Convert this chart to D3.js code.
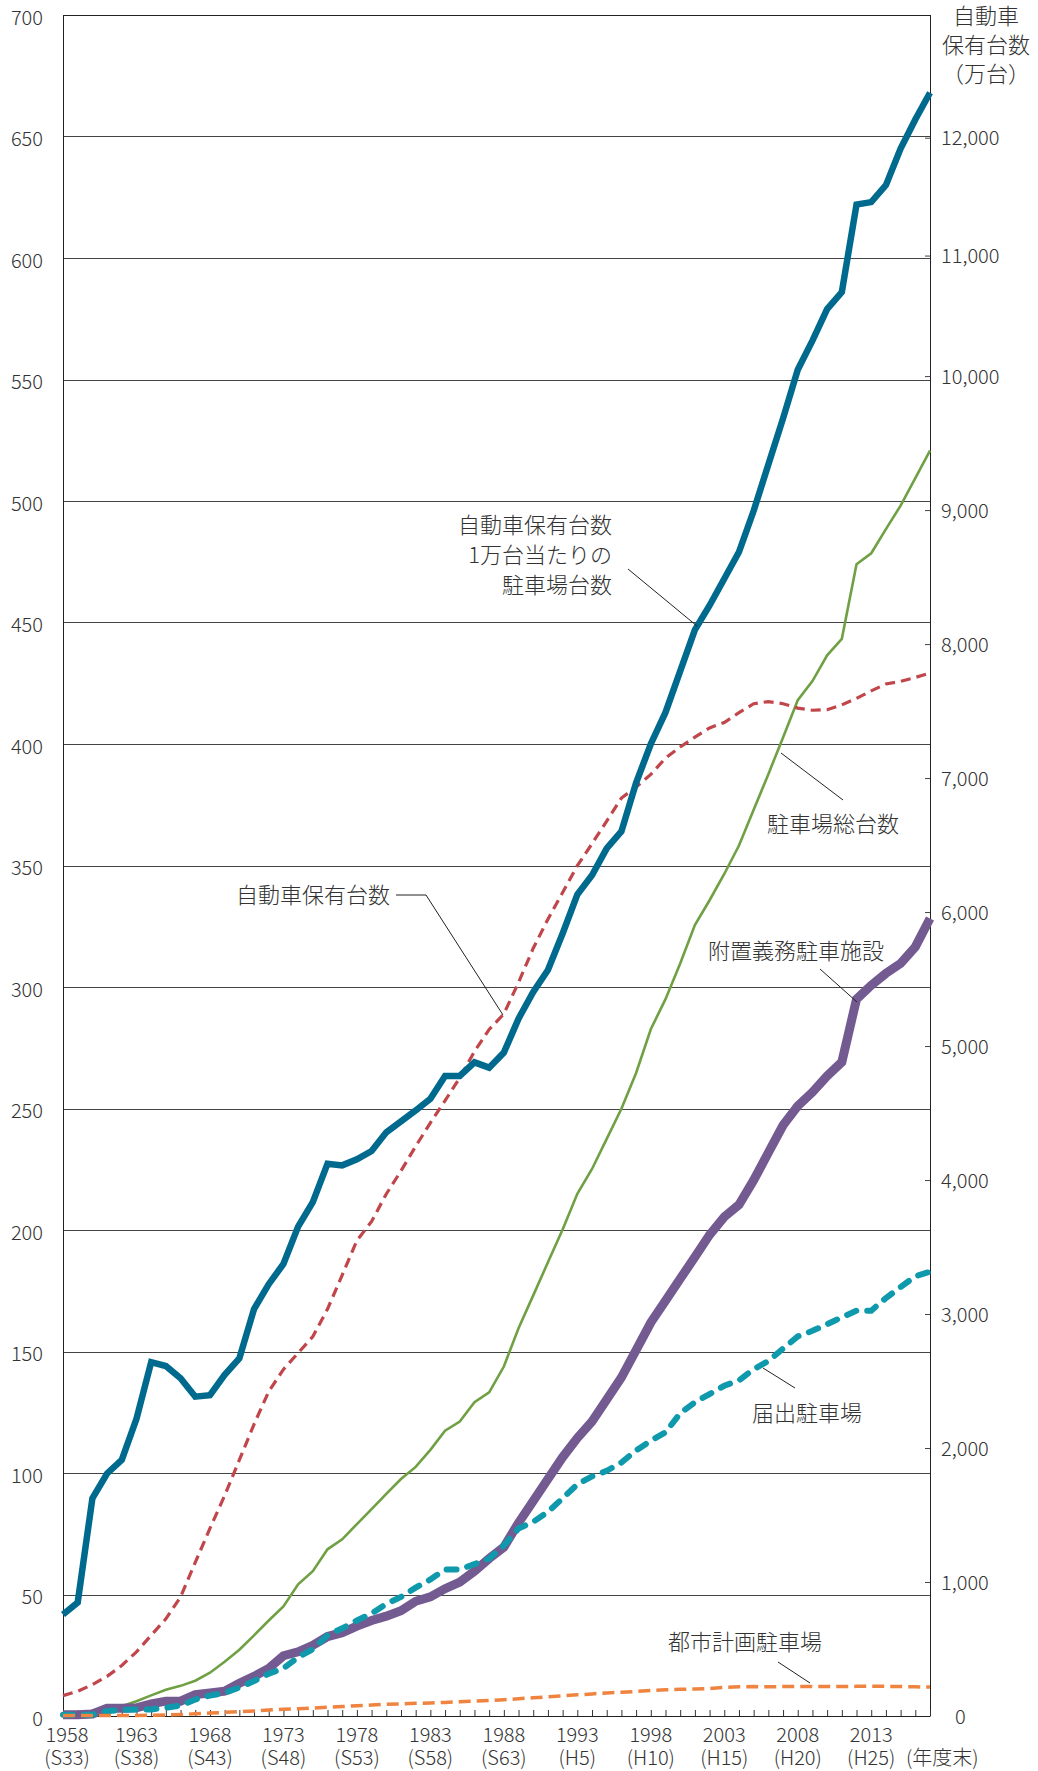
<!DOCTYPE html>
<html>
<head>
<meta charset="utf-8">
<script src="https://cdn.jsdelivr.net/npm/d3@7"></script>
<style>
  body { margin: 0; background: #fff; }
  svg text { font-family: "Noto Sans CJK JP", "Noto Sans", sans-serif; font-weight: 300; fill: #333; }
</style>
</head>
<body>
<div id="chart"></div>
<script>
// fiscal years (年度末)
const years = [1958, 1959, 1960, 1961, 1962, 1963, 1964, 1965, 1966, 1967,
  1968, 1969, 1970, 1971, 1972, 1973, 1974, 1975, 1976, 1977,
  1978, 1979, 1980, 1981, 1982, 1983, 1984, 1985, 1986, 1987,
  1988, 1989, 1990, 1991, 1992, 1993, 1994, 1995, 1996, 1997,
  1998, 1999, 2000, 2001, 2002, 2003, 2004, 2005, 2006, 2007,
  2008, 2009, 2010, 2011, 2012, 2013, 2014, 2015, 2016, 2017];

// 自動車保有台数1万台当たりの駐車場台数 (left axis)
const perTenThousand = [41.8, 46.7, 89.6, 99.8, 105.4, 122.3, 145.6, 144, 139, 131.4,
  132, 140.4, 147.2, 167.5, 177.7, 186, 201.4, 211.5, 227.3, 226.6,
  229.1, 232.5, 240.2, 244.7, 249.2, 254, 263.4, 263.4, 269, 266.8,
  273, 287, 298, 307, 322, 338, 346, 357, 364, 384,
  400, 413, 430, 447, 457, 468, 479, 496, 515, 534,
  554, 566, 579, 586, 622, 623, 630, 645, 657, 668];

// 自動車保有台数 (万台, right axis)
const carOwnership = [152, 185, 234, 296, 377, 479, 602, 725, 888, 1146,
  1400, 1645, 1911, 2177, 2422, 2587, 2709, 2832, 3037, 3291,
  3548, 3691, 3896, 4068, 4252, 4427, 4592, 4764, 4960, 5124,
  5240, 5475, 5730, 5947, 6146, 6346, 6510, 6679, 6851, 6933,
  7027, 7149, 7232, 7305, 7374, 7415, 7488, 7555, 7571, 7555,
  7522, 7506, 7510, 7546, 7595, 7651, 7702, 7722, 7751, 7783];

// 駐車場総台数 (万台, left axis)
const totalParking = [0.6, 0.9, 2.1, 3.0, 4.0, 6.1, 8.5, 10.8, 12.4, 14.5,
  17.8, 22.3, 27.3, 33.2, 39.3, 45.1, 54.2, 59.6, 68.6, 72.7,
  79, 85.1, 91.4, 97.5, 102.5, 109.5, 117.4, 121.2, 129.1, 133.2,
  143.8, 159.6, 173.1, 186.7, 200.2, 214.9, 225.1, 237.5, 249.9, 264.6,
  282.6, 295, 309.7, 325.5, 335.7, 346.5, 358.2, 372.9, 387.6, 402.7,
  418, 425.9, 436.5, 443.3, 474, 478.5, 488.4, 498.1, 509.4, 520.7];

// 附置義務駐車施設
const attachedParking = [0.5, 0.5, 0.8, 3.2, 3.2, 3.4, 5, 6.1, 6.1, 8.8,
  9.5, 10.2, 13.5, 16.3, 19.6, 24.8, 26.4, 29.1, 32.7, 34.3,
  37, 39.3, 41.1, 43.3, 47.2, 49, 52.4, 55.1, 59.6, 64.8,
  69.5, 79.5, 88.5, 97.5, 106.5, 114.4, 121.2, 130.2, 139.3, 150.6,
  161.9, 170.9, 179.9, 188.9, 198, 205.4, 210.4, 220.5, 231.8, 243.1,
  251, 256.7, 263.4, 269.1, 295, 300.7, 305.6, 309.7, 316.5, 328.2];

// 届出駐車場
const notifiedParking = [0.5, 0.5, 0.5, 2, 2.5, 2.7, 2.7, 3.4, 4.3, 6.8,
  8.4, 9.5, 11.7, 14.4, 17.4, 19.6, 24.2, 27.5, 33.2, 36.1,
  39.3, 42.2, 46.1, 49, 52.8, 56.2, 60.3, 60.3, 62.5, 64.8,
  70.2, 77.2, 79.9, 84, 89.6, 95.3, 98.6, 100.9, 104.3, 109.3,
  113.3, 116.7, 124.6, 129.1, 132.5, 135.9, 138.1, 142.7, 146.1, 151.2,
  156.2, 158.5, 161.2, 164.1, 166.8, 166.8, 172, 176.5, 181, 182.8];

// 都市計画駐車場
const cityPlanParking = [0.2, 0.2, 0.2, 0.2, 0.2, 0.2, 0.3, 0.4, 0.6, 0.9,
  1.2, 1.5, 1.8, 2.1, 2.5, 2.8, 3.0, 3.3, 3.6, 3.9,
  4.2, 4.5, 4.8, 5.0, 5.2, 5.4, 5.6, 5.9, 6.1, 6.4,
  6.7, 7.1, 7.5, 7.9, 8.3, 8.7, 9.1, 9.5, 9.8, 10.1,
  10.5, 10.8, 11.0, 11.1, 11.3, 11.8, 12.0, 12.1, 12.0, 12.1,
  12.2, 12.1, 12.1, 12.1, 12.2, 12.3, 12.2, 12.1, 12.0, 11.9];

const leftTicks = [0, 50, 100, 150, 200, 250, 300, 350, 400, 450, 500, 550, 600, 650, 700];
const rightTicks = [0, 1000, 2000, 3000, 4000, 5000, 6000, 7000, 8000, 9000, 10000, 11000, 12000];
const labelYears = [1958, 1963, 1968, 1973, 1978, 1983, 1988, 1993, 1998, 2003, 2008, 2013];
const eraLabels = ["(S33)", "(S38)", "(S43)", "(S48)", "(S53)", "(S58)", "(S63)",
  "(H5)", "(H10)", "(H15)", "(H20)", "(H25)"];

const width = 1038, height = 1771;
const plotLeft = 63, plotRight = 930, plotTop = 15, plotBottom = 1716;

const svg = d3.select("#chart").append("svg")
  .attr("width", width)
  .attr("height", height);

const x = d3.scaleLinear().domain([1958, 2017]).range([plotLeft, plotRight]);
const y = d3.scaleLinear().domain([0, 700]).range([plotBottom, plotTop]);
// right-axis labels are not evenly spaced on the original, so map them piecewise
const yR = d3.scaleLinear()
  .domain([0, 10000, 11000, 12000])
  .range([y(0), y(551.4), y(601), y(649.5)]);

// gridlines
svg.append("g")
  .selectAll("line")
  .data(leftTicks.filter(d => d > 0))
  .join("line")
  .attr("x1", plotLeft).attr("x2", plotRight)
  .attr("y1", d => Math.round(y(d)) + 0.5).attr("y2", d => Math.round(y(d)) + 0.5)
  .attr("stroke", d => d === 700 ? "#222" : "#444")
  .attr("stroke-width", 1);

// left axis
const gLeft = svg.append("g")
  .attr("transform", `translate(${plotLeft},0)`)
  .call(d3.axisLeft(y).tickValues(leftTicks).tickSize(0).tickPadding(20));
gLeft.select(".domain").attr("stroke", "#222");
gLeft.selectAll("text").attr("font-size", 20).attr("dy", "0.45em");

// right axis
const gRight = svg.append("g")
  .attr("transform", `translate(${plotRight},0)`)
  .call(d3.axisRight(yR).tickValues(rightTicks).tickFormat(d3.format(","))
    .tickSizeInner(-5).tickSizeOuter(0).tickPadding(11));
gRight.select(".domain").attr("d", `M0.5,${plotTop}V${plotBottom}`).attr("stroke", "#222");
gRight.selectAll(".tick line").attr("stroke", "#444");
gRight.selectAll("text").attr("font-size", 20).attr("dy", "0.35em");
gRight.selectAll(".tick").filter(d => d === 0).select("text").attr("x", 25);

// bottom axis with yearly ticks
const gBottom = svg.append("g")
  .attr("transform", `translate(0,${plotBottom})`)
  .call(d3.axisBottom(x).tickValues(years).tickFormat("").tickSizeInner(-6).tickSizeOuter(0));
gBottom.select(".domain").attr("stroke", "#222");
gBottom.selectAll(".tick line").attr("stroke", "#333");

const xl = svg.append("g").attr("font-size", 20).attr("text-anchor", "middle");
labelYears.forEach((yr, i) => {
  const cx = x(yr) + (i === 0 ? 4 : 0);
  xl.append("text").attr("x", cx).attr("y", 1742).text(yr);
  xl.append("text").attr("x", cx).attr("y", 1765).text(eraLabels[i]);
});
xl.append("text").attr("x", 906).attr("y", 1765).attr("text-anchor", "start").text("(年度末)");

// right axis title
const rt = svg.append("g").attr("font-size", 22).attr("text-anchor", "middle");
["自動車", "保有台数", "（万台）"].forEach((t, i) => {
  rt.append("text").attr("x", 986).attr("y", 24 + i * 29).text(t);
});

// series
const series = [
  { values: totalParking, scale: y, color: "#70a044", width: 2.6, dash: null, cap: "butt" },
  { values: carOwnership, scale: yR, color: "#c0464b", width: 3.2, dash: "10,6", cap: "butt" },
  { values: attachedParking, scale: y, color: "#735a91", width: 9, dash: null, cap: "butt" },
  { values: notifiedParking, scale: y, color: "#0e9aac", width: 6, dash: "10,11", cap: "round" },
  { values: cityPlanParking, scale: y, color: "#ef8441", width: 3.5, dash: "12,6", cap: "butt" },
  { values: perTenThousand, scale: y, color: "#006a8e", width: 6.5, dash: null, cap: "butt" }
];

series.forEach(s => {
  const line = d3.line()
    .x((d, i) => x(years[i]))
    .y(d => s.scale(d));
  svg.append("path")
    .datum(s.values)
    .attr("d", line)
    .attr("fill", "none")
    .attr("stroke", s.color)
    .attr("stroke-width", s.width)
    .attr("stroke-dasharray", s.dash)
    .attr("stroke-linecap", s.cap)
    .attr("stroke-linejoin", "miter");
});

// annotations
const notes = svg.append("g").attr("font-size", 22);
const leader = (pts) => svg.append("polyline")
  .attr("points", pts.map(p => p.join(",")).join(" "))
  .attr("fill", "none").attr("stroke", "#222").attr("stroke-width", 1);

["自動車保有台数", "1万台当たりの", "駐車場台数"].forEach((t, i) => {
  notes.append("text").attr("x", 612).attr("y", 533 + i * 30).attr("text-anchor", "end").text(t);
});
leader([[628, 569], [697, 626]]);

notes.append("text").attr("x", 767).attr("y", 832).text("駐車場総台数");
leader([[781, 753], [843, 800]]);

notes.append("text").attr("x", 236).attr("y", 903).text("自動車保有台数");
leader([[396, 895], [426, 895], [503, 1015]]);

notes.append("text").attr("x", 708).attr("y", 959).text("附置義務駐車施設");
leader([[820, 969], [857, 1002]]);

notes.append("text").attr("x", 752).attr("y", 1421).text("届出駐車場");
leader([[763, 1368], [795, 1388]]);

notes.append("text").attr("x", 668).attr("y", 1650).text("都市計画駐車場");
leader([[778, 1662], [810, 1683]]);
</script>
</body>
</html>
